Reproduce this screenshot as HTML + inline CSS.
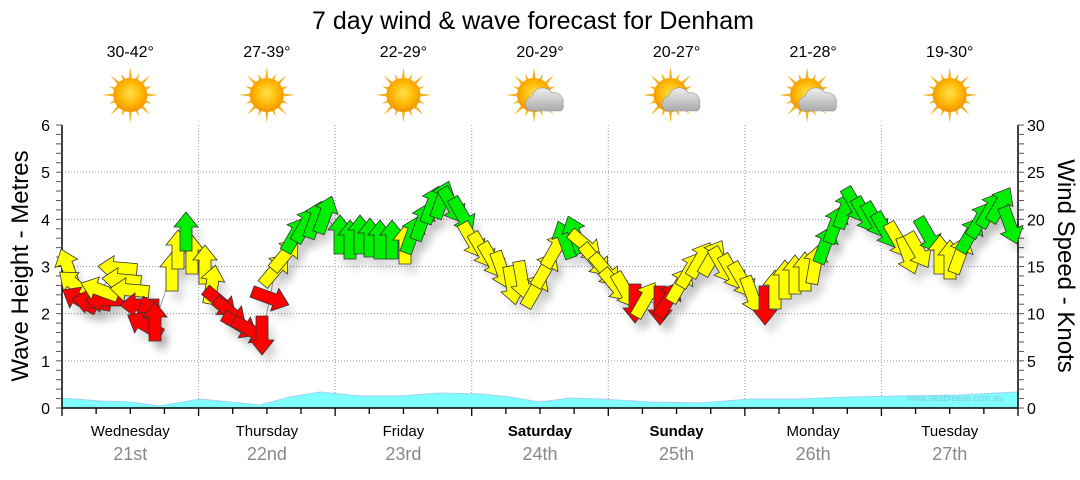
<!DOCTYPE html>
<html><head><meta charset="utf-8"><style>
body{margin:0;background:#fff;width:1080px;height:475px;overflow:hidden}
text{font-family:"Liberation Sans",sans-serif}
</style></head><body>
<svg id="s" width="1080" height="475" xmlns="http://www.w3.org/2000/svg">
<defs>
<radialGradient id="sun" cx="50%" cy="45%" r="50%"><stop offset="0" stop-color="#ffe24a"/><stop offset="0.7" stop-color="#ffb400"/><stop offset="1" stop-color="#f29a00"/></radialGradient>
<linearGradient id="cl" x1="0" y1="0" x2="0" y2="1"><stop offset="0" stop-color="#eee"/><stop offset="1" stop-color="#aaa"/></linearGradient>
<filter id="sh" x="-50%" y="-50%" width="200%" height="200%"><feGaussianBlur stdDeviation="4"/></filter>
</defs>
<text x="533" y="29" font-size="25" text-anchor="middle">7 day wind &amp; wave forecast for Denham</text>
<g id="g"></g>
</svg>
<script>
const NS="http://www.w3.org/2000/svg",g=document.getElementById('g');
function el(t,a,txt){const e=document.createElementNS(NS,t);for(const k in a)e.setAttribute(k,a[k]);if(txt!==undefined)e.textContent=txt;g.appendChild(e);return e;}
const X0=62,X1=1018,Y0=408,Yt=125,dy=(Y0-Yt)/6,dw=(X1-X0)/7;
for(let i=1;i<6;i++){const y=Y0-i*dy;el('line',{x1:X0,x2:X1,y1:y,y2:y,stroke:'#999','stroke-dasharray':'1,2'});}
for(let i=1;i<7;i++){const x=X0+i*dw;el('line',{x1:x,x2:x,y1:Yt,y2:Y0,stroke:'#999','stroke-dasharray':'1,2'});}
const wp=[[62,398],[100,401],[130,402],[160,406],[200,399],[230,402],[260,405],[290,397],[320,392],[360,396],[400,396],[440,393],[480,394],[510,397],[540,402],[570,398],[600,399],[650,402],[700,403],[750,399],[800,399],[850,397],[900,396],[960,395],[1018,392]];
el('path',{d:'M62,408 L'+wp.map(p=>p.join(',')).join(' L')+' L1018,408 Z',fill:'#80ffff',stroke:'#9fd3f7','stroke-width':1});
el('text',{x:955,y:401,'font-size':9,fill:'#7fc8e0','text-anchor':'middle'},'www.seabreeze.com.au');
el('line',{x1:X0,x2:X0,y1:Yt,y2:Y0,stroke:'#000','stroke-width':1.5});
el('line',{x1:X1,x2:X1,y1:Yt,y2:Y0,stroke:'#000','stroke-width':1.5});
el('line',{x1:X0,x2:X1,y1:Y0,y2:Y0,stroke:'#000','stroke-width':1.5});
for(let i=0;i<=30;i++){const y=Y0-i*dy/5;el('line',{x1:X0-6,x2:X0,y1:y,y2:y,stroke:'#555','stroke-width':1});}
for(let i=0;i<=6;i++)el('text',{x:50,y:Y0-i*dy+6,'font-size':16,'text-anchor':'end'},i);
for(let i=0;i<=30;i++){const y=Y0-i*dy/5;el('line',{x1:X1,x2:X1+6,y1:y,y2:y,stroke:'#555'});}
for(let i=0;i<=6;i++)el('text',{x:1027,y:Y0-i*dy+6,'font-size':16},i*5);
for(let i=0;i<=28;i++){const x=X0+i*dw/4;el('line',{x1:x,x2:x,y1:Y0,y2:Y0+(i%4==0?8:6),stroke:'#000','stroke-width':1.3});}
el('text',{x:0,y:0,'font-size':24,'text-anchor':'middle',transform:'translate(28,266) rotate(-90)'},'Wave Height - Metres');
el('text',{x:0,y:0,'font-size':24,'text-anchor':'middle',transform:'translate(1058,266) rotate(90)'},'Wind Speed - Knots');
const days=['Wednesday','Thursday','Friday','Saturday','Sunday','Monday','Tuesday'],dates=['21st','22nd','23rd','24th','25th','26th','27th'],temps=['30-42°','27-39°','22-29°','20-29°','20-27°','21-28°','19-30°'],cloud=[0,0,0,1,1,1,0];
for(let i=0;i<7;i++){const c=X0+dw*(i+0.5);
el('text',{x:c,y:436,'font-size':15,'text-anchor':'middle','font-weight':(i==3||i==4)?'bold':'normal'},days[i]);
el('text',{x:c,y:460,'font-size':18,'text-anchor':'middle',fill:'#888'},dates[i]);
el('text',{x:c,y:57,'font-size':16,'text-anchor':'middle'},temps[i]);
const cx=cloud[i]?c-6:c,cy=95;
for(let k=0;k<16;k++){const a=k*Math.PI/8,r1=15,r2=k%2?23:28;const a1=a-0.12,a2=a+0.12;
el('polygon',{points:`${cx+r1*Math.sin(a1)},${cy-r1*Math.cos(a1)} ${cx+r2*Math.sin(a)},${cy-r2*Math.cos(a)} ${cx+r1*Math.sin(a2)},${cy-r1*Math.cos(a2)}`,fill:'#f6b21b'});}
el('circle',{cx:cx,cy:cy,r:17,fill:'url(#sun)'});
if(cloud[i]){el('path',{d:`M${c-10},${cy+16} a8,8 0 0 1 2,-15 a11,11 0 0 1 20,-3 a9,9 0 0 1 11,11 a6,6 0 0 1 -2,7 Z`,fill:'url(#cl)',stroke:'#999','stroke-width':0.6});}
}
const Y='#ffff00',R='#ff0000',G='#00ee00';
const A=[[68,268,-20,Y],[75,285,-50,Y],[80,300,-60,R],[92,302,-80,R],[105,300,-90,R],[100,290,-70,Y],[118,268,-85,Y],[122,280,-85,Y],[130,290,-85,Y],[140,305,-90,R],[150,315,-20,R],[145,325,-60,R],[155,322,0,R],[172,272,0,Y],[178,250,0,Y],[192,255,0,Y],[186,232,0,G],
[205,265,0,Y],[212,285,10,Y],[220,302,130,R],[230,312,130,R],[240,325,120,R],[250,330,120,R],[262,335,180,R],[270,298,110,R],[275,270,40,Y],[285,255,40,Y],[295,235,30,G],[305,225,30,G],[315,220,20,G],[325,215,20,G],
[340,235,0,G],[350,240,0,G],[360,235,0,G],[370,238,0,G],[380,240,0,G],[392,240,0,G],[405,245,0,Y],[412,235,20,G],[422,222,20,G],[432,205,20,G],[442,200,20,G],[452,205,150,G],[462,215,150,G],[472,240,150,Y],
[482,250,150,Y],[492,260,150,Y],[502,270,160,Y],[512,285,170,Y],[522,280,170,Y],[535,290,30,Y],[545,270,30,Y],[555,250,30,Y],[565,240,-20,G],[575,235,-20,G],[585,245,130,Y],[595,260,140,Y],[605,270,140,Y],[615,285,140,Y],
[625,290,150,Y],[635,303,180,R],[645,300,30,Y],[660,305,180,R],[668,300,30,R],[680,285,30,Y],[690,270,30,Y],[700,260,30,Y],[712,258,30,Y],[722,265,150,Y],[732,272,150,Y],[742,280,150,Y],[752,295,160,Y],[765,305,180,R],
[775,290,0,Y],[785,280,0,Y],[795,275,0,Y],[805,272,0,Y],[815,265,10,Y],[825,245,20,G],[835,225,20,G],[845,210,20,G],[855,205,150,G],[865,215,150,G],[875,220,150,G],[885,230,150,G],
[898,240,150,Y],[908,255,160,Y],[918,250,150,Y],[928,235,150,G],[940,255,0,Y],[950,260,0,Y],[960,255,20,Y],[970,235,30,G],[980,220,30,G],[990,210,30,G],[1000,205,30,G],[1010,225,160,G]];
const pts='0,-20 12,-5 6,-5 6,19 -6,19 -6,-5 -12,-5';
el('path',{d:'M'+A.map(a=>a[0]+','+a[1]).join(' L'),fill:'none',stroke:'#999','stroke-width':1});
for(const a of A)el('polygon',{points:pts,transform:`translate(${a[0]+6},${a[1]+10}) rotate(${a[2]})`,fill:'#000',opacity:0.12,filter:'url(#sh)'});
for(const a of A)el('polygon',{points:pts,transform:`translate(${a[0]},${a[1]}) rotate(${a[2]})`,fill:a[3],stroke:'#333','stroke-width':0.8});
</script>
</body></html>
